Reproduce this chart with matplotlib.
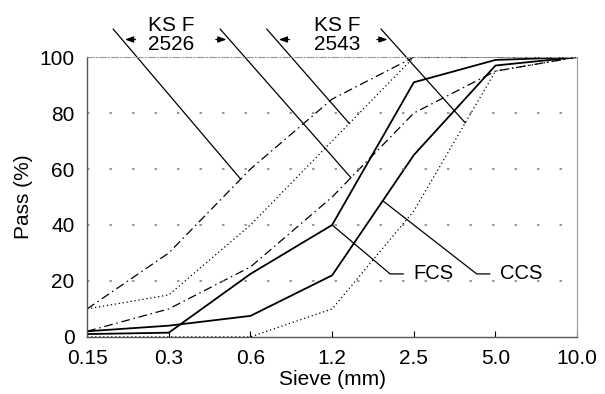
import numpy as np
import matplotlib
matplotlib.use("Agg")
import matplotlib.pyplot as plt

plt.rcParams['font.family'] = ['Liberation Sans', 'DejaVu Sans']

# sieve sizes (equally spaced categories)
sieves = ['0.15', '0.3', '0.6', '1.2', '2.5', '5.0', '10.0']

# KS F 2526 grading limits
ks2526_upper = [10, 30, 60, 85, 100, 100, 100]
ks2526_lower = [2, 10, 25, 50, 80, 95, 100]

# KS F 2543 grading limits
ks2543_upper = [10, 15, 40, 70, 100, 100, 100]
ks2543_lower = [0, 0, 0, 10, 45, 95, 100]

# measured gradings
fcs = [1, 1.5, 22.5, 40, 91, 99, 100]
ccs = [2, 4, 7.5, 22, 65, 97, 100]

x = np.arange(len(sieves))

fig = plt.figure(figsize=(6.05, 3.94), dpi=100)
ax = fig.add_axes([0.144, 0.145, 0.81, 0.71])

dashdot = (0, (7, 3, 1.2, 3))
dotted = (0, (1, 2.2))
ax.plot(x, ks2526_upper, color='black', lw=0.9, ls=dashdot)
ax.plot(x, ks2526_lower, color='black', lw=0.9, ls=dashdot)
ax.plot(x, ks2543_upper, color='black', lw=0.9, ls=dotted)
ax.plot(x, ks2543_lower, color='black', lw=0.9, ls=dotted)
ax.plot(x, fcs, color='black', lw=1.3)
ax.plot(x, ccs, color='black', lw=1.3)

ax.set_xlim(0, 6)
ax.set_ylim(0, 100)
ax.set_xticks(x)
ax.set_xticklabels(sieves)
ax.set_yticks([0, 20, 40, 60, 80, 100])
ax.tick_params(direction='in', length=4, labelsize=15, width=0.8, pad=9)
ax.tick_params(axis='y', length=0, pad=9)
for yv in [20, 40, 60, 80]:
    ax.axhline(yv, color='#888888', lw=1.2, ls=(0, (1.5, 12)))

for s in ['left', 'bottom']:
    ax.spines[s].set_color('#555555')
    ax.spines[s].set_linewidth(1.0)
ax.spines['top'].set_color('#999999')
ax.spines['top'].set_linestyle((0, (6, 2, 1, 2)))
ax.spines['right'].set_color('#999999')
ax.spines['right'].set_linestyle((0, (1, 1)))

ax.set_xlabel('Sieve (mm)', fontsize=15, labelpad=1)
ax.set_ylabel('Pass (%)', fontsize=15, labelpad=5)

# leader lines from the spec labels to the curves
top_y = 110
leaders = [(0.32, 1.88, ks2526_upper), (1.63, 3.23, ks2526_lower),
           (2.20, 3.21, ks2543_upper), (3.60, 4.63, ks2543_lower)]
ends = []
for x0, x1, curve in leaders:
    y1 = np.interp(x1, x, curve)
    ax.plot([x0, x1], [top_y, y1], color='black', lw=0.9, clip_on=False)
    ends.append((x0, x1, y1))

arrow_y = 106.3
def x_on(seg, yv):
    x0, x1, y1 = seg
    return x0 + (top_y - yv) / (top_y - y1) * (x1 - x0)

arrow_kw = dict(arrowstyle='-|>,head_length=0.5,head_width=0.18', color='black', lw=0.9)
for i, sign in [(0, 1), (1, -1), (2, 1), (3, -1)]:
    xh = x_on(ends[i], arrow_y)
    ax.annotate('', xy=(xh, arrow_y), xytext=(xh + sign * 0.2, arrow_y),
                arrowprops=arrow_kw, annotation_clip=False)

ax.text(1.03, 108, 'KS F\n2526', ha='center', va='center', fontsize=15,
        linespacing=1.0, clip_on=False)
ax.text(3.06, 108, 'KS F\n2543', ha='center', va='center', fontsize=15,
        linespacing=1.0, clip_on=False)

# FCS / CCS labels
lab_y = 22.5
ax.plot([3.0, 3.71, 3.87], [np.interp(3.0, x, fcs), lab_y, lab_y], color='black', lw=0.9)
ax.text(3.99, lab_y, 'FCS', ha='left', va='center', fontsize=14.5)
ax.plot([3.62, 4.77, 4.93], [np.interp(3.62, x, ccs), lab_y, lab_y], color='black', lw=0.9)
ax.text(5.05, lab_y, 'CCS', ha='left', va='center', fontsize=14.5)

fig.savefig('out.png', dpi=100)
